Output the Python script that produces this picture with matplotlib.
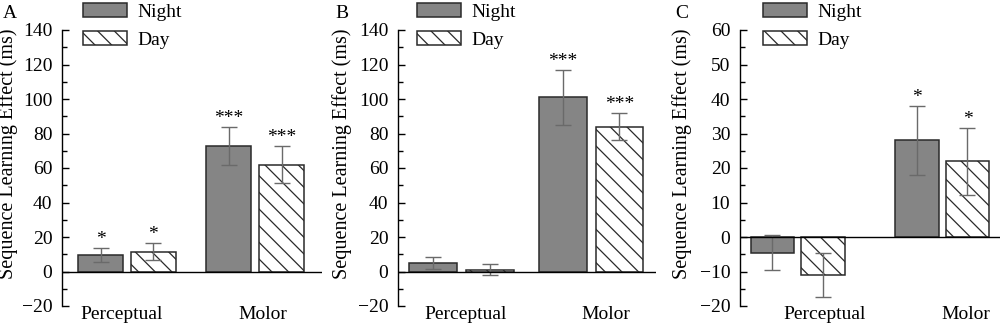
import matplotlib
matplotlib.use("Agg")
import matplotlib.pyplot as plt
from matplotlib.patches import Patch
from matplotlib.ticker import MultipleLocator
import matplotlib.transforms as mtransforms
import numpy as np

plt.rcParams['font.family'] = ['Liberation Serif', 'DejaVu Serif']
plt.rcParams['hatch.linewidth'] = 0.9
plt.rcParams['hatch.color'] = '#333333'

categories = ["Perceptual", "Molor"]
series = ["Night", "Day"]

# Panel A
a_night = [9.5, 73]
a_night_err = [4, 11]
a_day = [11.5, 62]
a_day_err = [4.8, 10.5]
a_night_sig = ["*", "***"]
a_day_sig = ["*", "***"]

# Panel B
b_night = [5, 101]
b_night_err = [3.5, 16]
b_day = [1, 84]
b_day_err = [3.2, 8]
b_night_sig = ["", "***"]
b_day_sig = ["", "***"]

# Panel C
c_night = [-4.5, 28]
c_night_err = [5, 10]
c_day = [-11, 22]
c_day_err = [6.5, 9.7]
c_night_sig = ["", "*"]
c_day_sig = ["", "*"]

W, H = 1000, 325
fig = plt.figure(figsize=(W / 100, H / 100), dpi=100)

panels = [
    dict(letter="A", night=a_night, nerr=a_night_err, day=a_day, derr=a_day_err,
         nsig=a_night_sig, dsig=a_day_sig,
         ylim=(-20, 140), major=20, minor=10,
         left=62, right=322, width=0.35, off=0.205, xlim=(-0.505, 1.52),
         lab_off=(-5, 8), leg=(83, 3), letter_x=3, ylab_x=18),
    dict(letter="B", night=b_night, nerr=b_night_err, day=b_day, derr=b_day_err,
         nsig=b_night_sig, dsig=b_day_sig,
         ylim=(-20, 140), major=20, minor=10,
         left=398, right=656, width=0.367, off=0.218, xlim=(-0.49, 1.50),
         lab_off=(4, 15), leg=(417, 3), letter_x=335, ylab_x=352),
    dict(letter="C", night=c_night, nerr=c_night_err, day=c_day, derr=c_day_err,
         nsig=c_night_sig, dsig=c_day_sig,
         ylim=(-20, 60), major=10, minor=5,
         left=740, right=1000, width=0.30, off=0.175, xlim=(-0.398, 1.40),
         lab_off=(27, 24), leg=(763, 3), letter_x=675, ylab_x=692),
]

top_px, bot_px = 30, 306
night_color = '#858585'
err_color = '#6a6a6a'
edge_color = '#2a2a2a'
day_hatch = '\\\\'

for p in panels:
    ax = fig.add_axes([p['left'] / W, 1 - bot_px / H, (p['right'] - p['left']) / W,
                       (bot_px - top_px) / H])
    x = np.arange(len(categories))
    ax.bar(x - p['off'], p['night'], p['width'], color=night_color,
           edgecolor=edge_color, linewidth=1.1, label=series[0], zorder=2)
    ax.bar(x + p['off'], p['day'], p['width'], color='white', hatch=day_hatch,
           edgecolor=edge_color, linewidth=1.1, label=series[1], zorder=2)
    ax.errorbar(x - p['off'], p['night'], yerr=p['nerr'], fmt='none',
                ecolor=err_color, elinewidth=1.0, capsize=6, capthick=1.0, zorder=3)
    ax.errorbar(x + p['off'], p['day'], yerr=p['derr'], fmt='none',
                ecolor=err_color, elinewidth=1.0, capsize=6, capthick=1.0, zorder=3)
    for xi, v, e, s in zip(x - p['off'], p['night'], p['nerr'], p['nsig']):
        if s:
            ax.annotate(s, (xi, v + e), xytext=(0, 0), textcoords='offset points',
                        ha='center', va='bottom', fontsize=14)
    for xi, v, e, s in zip(x + p['off'], p['day'], p['derr'], p['dsig']):
        if s:
            ax.annotate(s, (xi, v + e), xytext=(0, 0), textcoords='offset points',
                        ha='center', va='bottom', fontsize=14)

    ax.axhline(0, color='black', linewidth=1.0, zorder=4)
    ax.set_xlim(*p['xlim'])
    ax.set_ylim(*p['ylim'])
    for s in ['top', 'right', 'bottom']:
        ax.spines[s].set_visible(False)
    ax.spines['left'].set_linewidth(1.0)
    ax.yaxis.set_major_locator(MultipleLocator(p['major']))
    ax.yaxis.set_minor_locator(MultipleLocator(p['minor']))
    ax.tick_params(axis='y', which='major', direction='in', length=5, width=1.0,
                   labelsize=14, pad=7)
    ax.tick_params(axis='y', which='minor', direction='in', length=3.5, width=1.0)
    ax.set_xticks(x)
    ax.set_xticklabels(categories, fontsize=14)
    ax.tick_params(axis='x', length=0, pad=0)
    for lbl, dx in zip(ax.get_xticklabels(), p['lab_off']):
        lbl.set_transform(lbl.get_transform() +
                          mtransforms.ScaledTranslation(dx / 100, 0, fig.dpi_scale_trans))

    ax.set_ylabel("Sequence Learning Effect (ms)", fontsize=14.5)
    ax.yaxis.set_label_coords((p['ylab_x'] - p['left']) / (p['right'] - p['left']), 0.55)

    handles = [Patch(facecolor=night_color, edgecolor=edge_color, linewidth=1.1),
               Patch(facecolor='white', edgecolor=edge_color, hatch=day_hatch, linewidth=1.1)]
    fig.legend(handles, series, loc='upper left',
               bbox_to_anchor=(p['leg'][0] / W, 1 - p['leg'][1] / H),
               frameon=False, fontsize=14, handlelength=2.25, handleheight=0.72,
               handletextpad=0.55, labelspacing=0.55, borderpad=0, borderaxespad=0)

    fig.text(p['letter_x'] / W, 1 - 5 / H, p['letter'], fontsize=14, ha='left', va='top')

fig.savefig("out.png", dpi=100)
